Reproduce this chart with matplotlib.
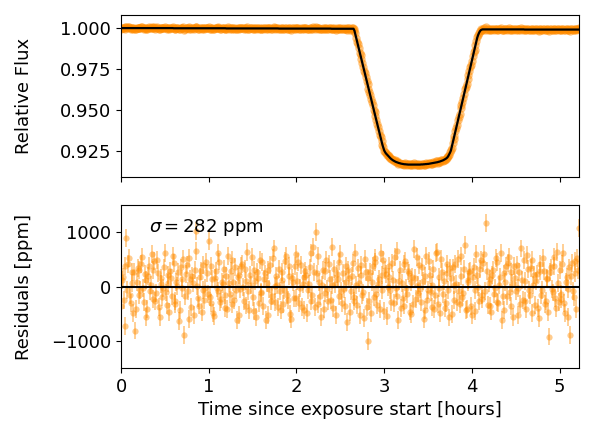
import numpy as np
import matplotlib
matplotlib.use("Agg")
from matplotlib import pyplot as plt

# exposure mid-times [hours since exposure start]
time_hours = [
    0.00, 0.01, 0.02, 0.03, 0.04, 0.05, 0.06, 0.07, 0.08, 0.09,
    0.10, 0.11, 0.12, 0.13, 0.14, 0.15, 0.16, 0.17, 0.18, 0.19,
    0.20, 0.21, 0.22, 0.23, 0.24, 0.25, 0.26, 0.27, 0.28, 0.29,
    0.30, 0.31, 0.32, 0.33, 0.34, 0.35, 0.36, 0.37, 0.38, 0.39,
    0.40, 0.41, 0.42, 0.43, 0.44, 0.45, 0.46, 0.47, 0.48, 0.49,
    0.50, 0.51, 0.52, 0.53, 0.54, 0.55, 0.56, 0.57, 0.58, 0.59,
    0.60, 0.61, 0.62, 0.63, 0.64, 0.65, 0.66, 0.67, 0.68, 0.69,
    0.70, 0.71, 0.72, 0.73, 0.74, 0.75, 0.76, 0.77, 0.78, 0.79,
    0.80, 0.81, 0.82, 0.83, 0.84, 0.85, 0.86, 0.87, 0.88, 0.89,
    0.90, 0.91, 0.92, 0.93, 0.94, 0.95, 0.96, 0.97, 0.98, 0.99,
    1.00, 1.01, 1.02, 1.03, 1.04, 1.05, 1.06, 1.07, 1.08, 1.09,
    1.10, 1.11, 1.12, 1.13, 1.14, 1.15, 1.16, 1.17, 1.18, 1.19,
    1.20, 1.21, 1.22, 1.23, 1.24, 1.25, 1.26, 1.27, 1.28, 1.29,
    1.30, 1.31, 1.32, 1.33, 1.34, 1.35, 1.36, 1.37, 1.38, 1.39,
    1.40, 1.41, 1.42, 1.43, 1.44, 1.45, 1.46, 1.47, 1.48, 1.49,
    1.50, 1.51, 1.52, 1.53, 1.54, 1.55, 1.56, 1.57, 1.58, 1.59,
    1.60, 1.61, 1.62, 1.63, 1.64, 1.65, 1.66, 1.67, 1.68, 1.69,
    1.70, 1.71, 1.72, 1.73, 1.74, 1.75, 1.76, 1.77, 1.78, 1.79,
    1.80, 1.81, 1.82, 1.83, 1.84, 1.85, 1.86, 1.87, 1.88, 1.89,
    1.90, 1.91, 1.92, 1.93, 1.94, 1.95, 1.96, 1.97, 1.98, 1.99,
    2.00, 2.01, 2.02, 2.03, 2.04, 2.05, 2.06, 2.07, 2.08, 2.09,
    2.10, 2.11, 2.12, 2.13, 2.14, 2.15, 2.16, 2.17, 2.18, 2.19,
    2.20, 2.21, 2.22, 2.23, 2.24, 2.25, 2.26, 2.27, 2.28, 2.29,
    2.30, 2.31, 2.32, 2.33, 2.34, 2.35, 2.36, 2.37, 2.38, 2.39,
    2.40, 2.41, 2.42, 2.43, 2.44, 2.45, 2.46, 2.47, 2.48, 2.49,
    2.50, 2.51, 2.52, 2.53, 2.54, 2.55, 2.56, 2.57, 2.58, 2.59,
    2.60, 2.61, 2.62, 2.63, 2.64, 2.65, 2.66, 2.67, 2.68, 2.69,
    2.70, 2.71, 2.72, 2.73, 2.74, 2.75, 2.76, 2.77, 2.78, 2.79,
    2.80, 2.81, 2.82, 2.83, 2.84, 2.85, 2.86, 2.87, 2.88, 2.89,
    2.90, 2.91, 2.92, 2.93, 2.94, 2.95, 2.96, 2.97, 2.98, 2.99,
    3.00, 3.01, 3.02, 3.03, 3.04, 3.05, 3.06, 3.07, 3.08, 3.09,
    3.10, 3.11, 3.12, 3.13, 3.14, 3.15, 3.16, 3.17, 3.18, 3.19,
    3.20, 3.21, 3.22, 3.23, 3.24, 3.25, 3.26, 3.27, 3.28, 3.29,
    3.30, 3.31, 3.32, 3.33, 3.34, 3.35, 3.36, 3.37, 3.38, 3.39,
    3.40, 3.41, 3.42, 3.43, 3.44, 3.45, 3.46, 3.47, 3.48, 3.49,
    3.50, 3.51, 3.52, 3.53, 3.54, 3.55, 3.56, 3.57, 3.58, 3.59,
    3.60, 3.61, 3.62, 3.63, 3.64, 3.65, 3.66, 3.67, 3.68, 3.69,
    3.70, 3.71, 3.72, 3.73, 3.74, 3.75, 3.76, 3.77, 3.78, 3.79,
    3.80, 3.81, 3.82, 3.83, 3.84, 3.85, 3.86, 3.87, 3.88, 3.89,
    3.90, 3.91, 3.92, 3.93, 3.94, 3.95, 3.96, 3.97, 3.98, 3.99,
    4.00, 4.01, 4.02, 4.03, 4.04, 4.05, 4.06, 4.07, 4.08, 4.09,
    4.10, 4.11, 4.12, 4.13, 4.14, 4.15, 4.16, 4.17, 4.18, 4.19,
    4.20, 4.21, 4.22, 4.23, 4.24, 4.25, 4.26, 4.27, 4.28, 4.29,
    4.30, 4.31, 4.32, 4.33, 4.34, 4.35, 4.36, 4.37, 4.38, 4.39,
    4.40, 4.41, 4.42, 4.43, 4.44, 4.45, 4.46, 4.47, 4.48, 4.49,
    4.50, 4.51, 4.52, 4.53, 4.54, 4.55, 4.56, 4.57, 4.58, 4.59,
    4.60, 4.61, 4.62, 4.63, 4.64, 4.65, 4.66, 4.67, 4.68, 4.69,
    4.70, 4.71, 4.72, 4.73, 4.74, 4.75, 4.76, 4.77, 4.78, 4.79,
    4.80, 4.81, 4.82, 4.83, 4.84, 4.85, 4.86, 4.87, 4.88, 4.89,
    4.90, 4.91, 4.92, 4.93, 4.94, 4.95, 4.96, 4.97, 4.98, 4.99,
    5.00, 5.01, 5.02, 5.03, 5.04, 5.05, 5.06, 5.07, 5.08, 5.09,
    5.10, 5.11, 5.12, 5.13, 5.14, 5.15, 5.16, 5.17, 5.18, 5.19,
    5.20, 5.21, 5.22,
]

# best fit transit model (relative flux)
ingress = [0.9985, 0.9963, 0.9941, 0.9919, 0.9897, 0.9876, 0.9854, 0.9832, 0.9810, 0.9788,
           0.9766, 0.9744, 0.9722, 0.9700, 0.9678, 0.9657, 0.9635, 0.9613, 0.9591, 0.9569,
           0.9547, 0.9525, 0.9503, 0.9481, 0.9459, 0.9438, 0.9416, 0.9394, 0.9372, 0.9350,
           0.9328, 0.9307, 0.9286, 0.9268, 0.9252, 0.9242, 0.9234, 0.9228, 0.9222, 0.9216]
in_transit = [0.9210, 0.9205, 0.9200, 0.9196, 0.9192, 0.9189, 0.9186, 0.9183, 0.9181, 0.9179,
              0.9177, 0.9175, 0.9174, 0.9172, 0.9171, 0.9170, 0.9169, 0.9168, 0.9168, 0.9167,
              0.9167, 0.9166, 0.9166, 0.9166, 0.9166, 0.9166, 0.9166, 0.9166, 0.9166, 0.9166,
              0.9166, 0.9166, 0.9166, 0.9166, 0.9166, 0.9166, 0.9167, 0.9167, 0.9167, 0.9168,
              0.9168, 0.9169, 0.9169, 0.9170, 0.9170, 0.9171, 0.9172, 0.9173, 0.9174, 0.9175,
              0.9176, 0.9177, 0.9178, 0.9179, 0.9180, 0.9181, 0.9183, 0.9184, 0.9186, 0.9188,
              0.9190, 0.9192, 0.9195, 0.9198, 0.9201, 0.9205]
egress = [0.9210, 0.9218, 0.9228, 0.9239, 0.9252, 0.9274, 0.9297, 0.9320, 0.9343, 0.9366,
          0.9389, 0.9412, 0.9435, 0.9458, 0.9481, 0.9504, 0.9527, 0.9550, 0.9573, 0.9596,
          0.9619, 0.9642, 0.9665, 0.9688, 0.9711, 0.9734, 0.9757, 0.9780, 0.9803, 0.9826,
          0.9849, 0.9872, 0.9895, 0.9918, 0.9941, 0.9957, 0.9970, 0.9980, 0.9987, 0.9990]
model_flux = ([1.0000] * 60 + [0.9999] * 60 + [0.9998] * 60 + [0.9997] * 60 + [0.9996] * 26
              + ingress + in_transit + egress + [0.9992] * 48 + [0.9991] * 63)

# residuals (data - model) [ppm]
residuals_ppm = [
    -350, 120, 180, -240, -720, 380, 900, -60, 420, 530, -150, -310, 260, 70, -480, 260, -810, -420, 90, 340,
    310, -150, -60, 410, 540, -20, -290, 230, 120, -560, -410, 190, 380, -90, 20, 600, -230, 310, 470, -270,
    -120, 480, 250, -380, -560, 40, 160, -190, -30, 350, 610, -110, -340, 220, 70, -470, 290, 150, -180, 560,
    440, -330, -260, 80, 10, 270, -630, -440, 350, -20, 140, 510, -900, -180, 230, 390, -90, -590, 520, 130,
    -380, 200, 60, -520, 300, 660, 1020, 10, -210, -350, 170, 280, -470, -60, 390, -240, -20, 450, 250, -130,
    830, -200, -310, 370, 130, -480, -540, 150, 280, -30, -80, 620, 460, -290, -230, 90, 40, 330, -390, -160,
    190, -410, 570, 60, -140, 290, -320, 480, 80, -250, 360, -70, -610, 170, 220, -530, -50, 380, 410, -10,
    -270, 320, 110, -350, 640, -80, -430, 210, 30, 540, -190, -450, 300, 100, -560, 260, 150, -300, 480, -120,
    -100, 450, -360, 130, 240, -610, 60, 300, -520, -40, 390, -260, -170, 520, 700, 10, -280, 190, 20, -380,
    330, -90, -440, 270, 120, -330, -70, 470, 560, -150, -250, 380, 200, -500, -600, 160, 90, -220, 370, 590,
    -210, 110, 450, -300, -30, 400, -380, 50, 170, -440, 280, 210, -490, -60, 40, 350, 620, -270, -150, 730,
    260, -380, 1010, 240, -330, 560, 90, -170, -560, 30, 310, -420, -120, 290, 480, -50, -260, 410, 140, -240,
    720, 20, -400, 330, 50, -520, 230, 140, -180, 460, 590, -90, -310, 250, -40, -360, 380, 80, -650, 300,
    160, -470, -90, 190, 430, -200, -270, 610, 20, -340, 340, 70, -530, 390, 210, -150, -110, -580, 500, 260,
    -380, 150, -1000, -260, 270, -490, 80, 370, -200, 520, 450, -130, -340, 40, 130, -410, 610, 220, -70, 480,
    -450, 310, 230, -540, -10, 180, 380, -70, -290, 430, 120, -310, 540, -20, -180, 650, -620, 100, 300, -390,
    60, -210, -350, 420, 470, -30, -140, 280, 250, -460, -500, 90, 180, -330, 690, 160, -230, 550, 30, -120,
    400, -50, -280, 360, 110, -600, -440, 200, 560, -240, -60, 470, 220, -100, -370, 30, 330, -410, -160, 610,
    640, -320, -20, 180, -480, 500, 270, -140, 100, -390, -300, 250, 420, -60, -570, 340, 150, -510, 350, 20,
    -240, 410, 40, -280, 510, -90, -330, 570, 190, -200, -120, 330, 760, -440, -410, 120, 80, 260, 290, -360,
    -530, 170, 360, -450, -70, 590, 220, -10, -260, 320, 480, -230, -150, 440, 600, -90, 1170, 280, -340, 60,
    130, -350, -460, 220, 310, -140, -20, 520, 450, -280, -300, 30, 170, 610, -620, -170, 240, -430, 90, 380,
    -180, 440, 550, -110, -360, 270, 60, -560, 380, 150, -90, 390, -520, -20, 260, -330, 700, 120, -240, 480,
    110, -260, -410, 580, 320, -70, -150, 340, 490, -480, 20, 210, -340, 100, 230, -390, -580, 290, 410, -150,
    -60, 520, 280, -330, -270, 130, 160, -470, -920, 260, 350, -40, -110, 380, 540, -210, -390, 640, 70, -280,
    300, -140, -230, 410, 620, -310, -480, 90, 180, -560, -40, 350, -900, 200, 430, -80, -200, 470, 250, -420,
    520, 310, 1080,
]
error_ppm = 165
sigma_ppm = 282

time = np.array(time_hours)
model = np.array(model_flux)
resid = np.array(residuals_ppm)
flux = model + resid * 1e-6

plt.rcParams["font.size"] = 13

fig = plt.figure(figsize=(5.95, 4.45), dpi=100)
ax1 = fig.add_axes([0.2034, 0.6022, 0.7697, 0.3641])
ax2 = fig.add_axes([0.2034, 0.1730, 0.7697, 0.3663], sharex=ax1)

# light curve + model
ax1.errorbar(time, flux, yerr=error_ppm * 1e-6, fmt="o", color="darkorange",
             ms=6, alpha=0.5, mec="none", elinewidth=1)
ax1.plot(time, model, color="k", lw=1.6, zorder=3)
ax1.set_ylim(0.909, 1.008)
ax1.set_yticks([0.925, 0.950, 0.975, 1.000])
ax1.set_ylabel("Relative Flux")
ax1.tick_params(labelbottom=False)

# residuals
ax2.errorbar(time, resid, yerr=error_ppm, fmt="o", color="darkorange",
             ms=4.5, alpha=0.45, mec="none", elinewidth=1.3)
ax2.axhline(0, color="k", lw=1.5, zorder=3)
ax2.set_ylim(-1500, 1500)
ax2.set_yticks([-1000, 0, 1000])
ax2.set_xlim(0, 5.22)
ax2.set_ylabel("Residuals [ppm]")
ax2.set_xlabel("Time since exposure start [hours]")
ax2.text(0.06, 0.865, r"$\sigma = %d$ ppm" % sigma_ppm, transform=ax2.transAxes,
         va="center", ha="left")

# line up the two y labels like the original
for ax in (ax1, ax2):
    ax.yaxis.set_label_coords(-0.192, 0.5)

fig.savefig("out.png", dpi=100)
